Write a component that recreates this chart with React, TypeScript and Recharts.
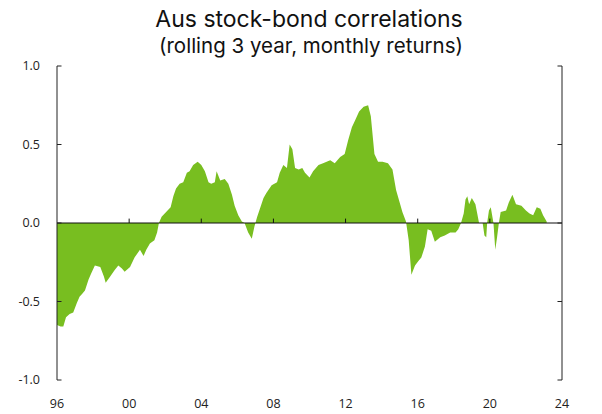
import { Area, AreaChart, ReferenceLine, XAxis, YAxis } from "recharts";

// rolling 3y stock-bond correlation (decimal years)
const years = [
  1996.0, 1996.2, 1996.35, 1996.5, 1996.7, 1996.9, 1997.1, 1997.25, 1997.4, 1997.55,
  1997.75, 1997.9, 1998.1, 1998.4, 1998.6, 1998.7, 1998.95, 1999.2, 1999.4, 1999.6,
  1999.75, 2000.05, 2000.3, 2000.6, 2000.8, 2000.95, 2001.15, 2001.4, 2001.55, 2001.65,
  2001.8, 2002.05, 2002.3, 2002.45, 2002.6, 2002.8, 2003.0, 2003.2, 2003.35, 2003.55,
  2003.8, 2004.0, 2004.2, 2004.4, 2004.55, 2004.75, 2004.85, 2005.05, 2005.3, 2005.5,
  2005.7, 2005.85, 2006.05, 2006.25, 2006.4, 2006.6, 2006.8, 2006.95, 2007.1, 2007.25,
  2007.45, 2007.6, 2007.9, 2008.2, 2008.35, 2008.55, 2008.75, 2008.9, 2009.05, 2009.2,
  2009.4, 2009.6, 2009.75, 2010.0, 2010.2, 2010.5, 2010.75, 2011.15, 2011.4, 2011.7,
  2011.95, 2012.15, 2012.35, 2012.55, 2012.75, 2013.0, 2013.25, 2013.4, 2013.6, 2013.8,
  2014.05, 2014.35, 2014.6, 2014.8, 2015.0, 2015.15, 2015.35, 2015.5, 2015.65, 2015.85,
  2016.05, 2016.2, 2016.4, 2016.55, 2016.75, 2016.95, 2017.25, 2017.5, 2017.8, 2018.1,
  2018.25, 2018.4, 2018.55, 2018.65, 2018.75, 2018.85, 2019.0, 2019.2, 2019.3, 2019.4,
  2019.6, 2019.7, 2019.8, 2019.85, 2019.95, 2020.05, 2020.2, 2020.3, 2020.4, 2020.5,
  2020.6, 2020.9, 2021.05, 2021.25, 2021.45, 2021.75, 2022.0, 2022.2, 2022.4, 2022.6,
  2022.8, 2022.95, 2023.15,
];

const correlation = [
  -0.65, -0.66, -0.66, -0.6, -0.58, -0.57, -0.51, -0.47, -0.45, -0.43,
  -0.36, -0.32, -0.27, -0.28, -0.34, -0.38, -0.34, -0.3, -0.27, -0.29,
  -0.31, -0.28, -0.22, -0.17, -0.21, -0.17, -0.13, -0.11, -0.06, 0.0,
  0.04, 0.07, 0.1, 0.17, 0.22, 0.25, 0.26, 0.32, 0.33, 0.37,
  0.39, 0.37, 0.33, 0.26, 0.25, 0.26, 0.33, 0.27, 0.28, 0.25,
  0.18, 0.11, 0.05, 0.01, 0.0, -0.06, -0.1, -0.02, 0.04, 0.09,
  0.16, 0.19, 0.24, 0.26, 0.32, 0.37, 0.35, 0.5, 0.47, 0.35,
  0.34, 0.35, 0.32, 0.29, 0.33, 0.37, 0.38, 0.4, 0.38, 0.42,
  0.44, 0.53, 0.61, 0.66, 0.71, 0.74, 0.75, 0.68, 0.44, 0.39,
  0.39, 0.38, 0.34, 0.21, 0.13, 0.07, 0.01, -0.11, -0.33, -0.27,
  -0.24, -0.22, -0.15, -0.04, -0.05, -0.12, -0.09, -0.08, -0.06, -0.06,
  -0.04, 0.0, 0.06, 0.15, 0.17, 0.12, 0.16, 0.12, 0.06, 0.0,
  0.0, -0.08, -0.09, 0.0, 0.08, 0.1, 0.0, -0.17, -0.09, 0.0,
  0.07, 0.08, 0.13, 0.18, 0.12, 0.11, 0.08, 0.06, 0.05, 0.1,
  0.09, 0.05, 0.01,
];

const xTicks = [1996, 2000, 2004, 2008, 2012, 2016, 2020, 2024];
const yTicks = [-1, -0.5, 0, 0.5, 1];

const data = years.map((year, i) => ({ year, corr: correlation[i] }));

const font = "'Open Sans', 'Liberation Sans', sans-serif";
const tickStyle = { fill: "#222", fontSize: 12.5, fontFamily: font };

export default function App() {
  return (
    <div
      style={{
        position: "absolute",
        left: 0,
        top: 0,
        width: 602,
        height: 414,
        background: "#fff",
        fontFamily: "Inter, 'Open Sans', sans-serif",
        color: "#111",
      }}
    >
      <div
        style={{
          position: "absolute",
          top: 5,
          width: 602,
          textAlign: "center",
          fontSize: 23,
          lineHeight: "28px",
          paddingLeft: 16,
          boxSizing: "border-box",
        }}
      >
        Aus stock-bond correlations
      </div>
      <div
        style={{
          position: "absolute",
          top: 33,
          width: 602,
          textAlign: "center",
          fontSize: 20.5,
          lineHeight: "26px",
          paddingLeft: 20,
          boxSizing: "border-box",
        }}
      >
        (rolling 3 year, monthly returns)
      </div>
      <AreaChart
        width={602}
        height={414}
        data={data}
        margin={{ top: 66, right: 0, bottom: 0, left: 0 }}
        style={{ position: "absolute", left: 0, top: 0 }}
      >
        <XAxis
          dataKey="year"
          type="number"
          domain={[1996, 2024]}
          ticks={xTicks}
          tickFormatter={(v: number) => String(v).slice(2)}
          axisLine={false}
          tickLine={false}
          tickSize={0}
          tickMargin={19}
          height={34}
          tick={tickStyle}
          interval={0}
        />
        <YAxis
          yAxisId="left"
          domain={[-1, 1]}
          ticks={yTicks}
          tickFormatter={(v: number) => v.toFixed(1)}
          width={57}
          axisLine={{ stroke: "#222" }}
          tickLine={false}
          tickSize={0}
          tickMargin={17}
          tick={tickStyle}
          interval={0}
        />
        <YAxis
          yAxisId="right"
          orientation="right"
          domain={[-1, 1]}
          ticks={yTicks}
          tickFormatter={(v: number) => v.toFixed(1)}
          width={40}
          axisLine={{ stroke: "#222" }}
          tickLine={false}
          tickSize={0}
          tickMargin={16}
          tick={tickStyle}
          interval={0}
        />
        <Area
          yAxisId="left"
          type="linear"
          dataKey="corr"
          baseValue={0}
          stroke="none"
          fill="#78be20"
          fillOpacity={1}
          isAnimationActive={false}
        />
        <ReferenceLine yAxisId="left" y={0} stroke="#111" strokeWidth={1.2} />
        {xTicks.slice(1, -1).map((t) => (
          <ReferenceLine
            key={`xt${t}`}
            yAxisId="left"
            segment={[
              { x: t, y: 0 },
              { x: t, y: 0.028 },
            ]}
            stroke="#111"
          />
        ))}
        {yTicks.map((t) => (
          <ReferenceLine
            key={`yl${t}`}
            yAxisId="left"
            segment={[
              { x: 1996, y: t },
              { x: 1996.25, y: t },
            ]}
            stroke="#222"
          />
        ))}
        {yTicks.map((t) => (
          <ReferenceLine
            key={`yr${t}`}
            yAxisId="left"
            segment={[
              { x: 2023.75, y: t },
              { x: 2024, y: t },
            ]}
            stroke="#222"
          />
        ))}
      </AreaChart>
    </div>
  );
}
